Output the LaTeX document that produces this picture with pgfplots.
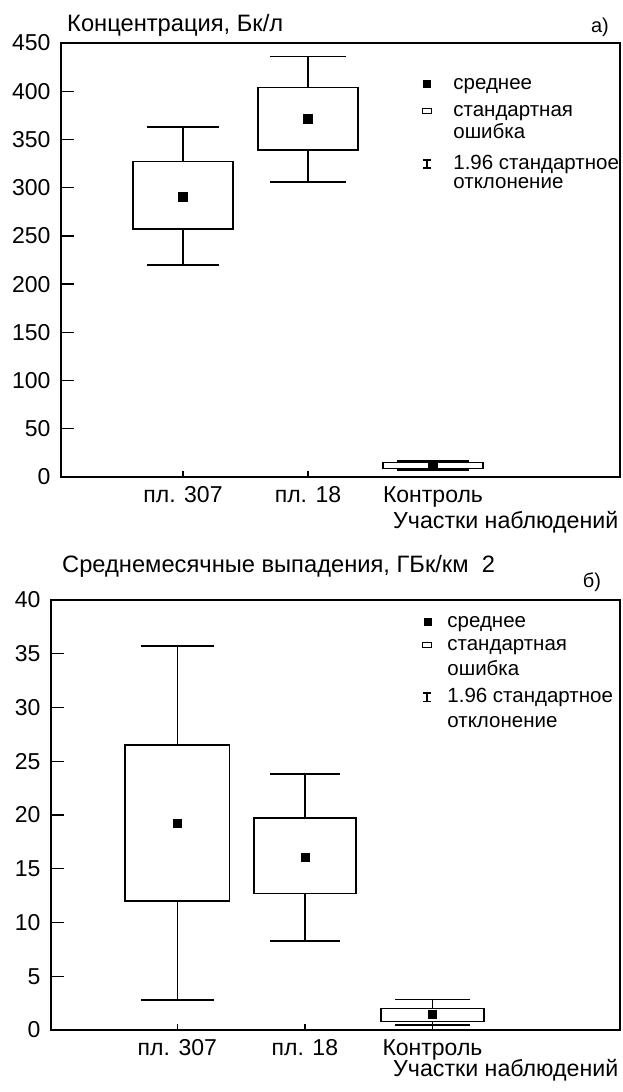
\documentclass[border=0pt]{standalone}
\usepackage{pgfplots}
\pgfplotsset{compat=1.18}
\usepackage{fontspec}
\setmainfont{Liberation Sans}

\newcommand{\st}[1]{\rule[-#1pt]{0pt}{\dimexpr 15pt+#1pt\relax}}

\pgfplotsset{
  myaxis/.style={
    scale only axis, anchor=south west,
    axis line style={line width=1.5pt},
    xtick={1,2,3}, xticklabels={пл. 307, пл. 18, Контроль},
    xtick pos=bottom, ytick pos=left, tick align=inside,
    major tick length=13pt,
    xtick style={draw=none},
    ytick style={line width=1.4pt, black},
    /pgf/number format/assume math mode=true,
    tick label style={font=\fontsize{23}{27}\selectfont},
    yticklabel style={xshift=-7pt},
    xticklabel style={yshift=-6pt},
    legend cell align=left,
    legend style={anchor=north west, draw=none, fill=none, inner sep=0pt, outer sep=0pt,
      font=\fontsize{20.5}{24}\selectfont,
      cells={anchor=base west},
      nodes={inner sep=0pt, text depth=, text height=}, row sep=0pt},
  },
  meanimg/.style={legend image code/.code={\path (0pt,0pt) (12pt,0pt); \fill[black] (2.5pt,1.7pt) rectangle (9.5pt,8.7pt);}},
  boximg/.style={legend image code/.code={\path (0pt,0pt) (12pt,0pt); \draw[black, line width=1.5pt] (1.5pt,2.7pt) rectangle (10.5pt,7.7pt);}},
  whiskimg/.style={legend image code/.code={\path (0pt,0pt) (12pt,0pt); \draw[black, line width=1.6pt] (2pt,1pt)--(10pt,1pt) (6pt,1pt)--(6pt,9.5pt) (2pt,9.5pt)--(10pt,9.5pt);}},
  emptyimg/.style={legend image code/.code={\path (0pt,0pt) (12pt,0pt);}},
  bx/.style={black, solid, line width=1.5pt, line join=miter, line cap=rect, forget plot, mark=none},
}

% box-and-whisker: #1 position, #2 box left, #3 box right, #4 cap left, #5 cap right,
% #6 lower whisker, #7 mean-SE, #8 mean+SE, #9 upper whisker
\newcommand{\bw}[9]{%
  \addplot[bx] coordinates {(#2,#7) (#3,#7) (#3,#8) (#2,#8) (#2,#7)};
  \addplot[bx] coordinates {(#1,#8) (#1,#9)};
  \addplot[bx] coordinates {(#4,#9) (#5,#9)};
  \addplot[bx] coordinates {(#1,#7) (#1,#6)};
  \addplot[bx] coordinates {(#4,#6) (#5,#6)};
}

\begin{document}
\begin{tikzpicture}
\path[use as bounding box] (0pt,0pt) rectangle (623pt,-1092pt);

% ---------- panel a ----------
\begin{axis}[myaxis,
  at={(61pt,-477pt)}, width=559pt, height=434pt,
  xmin=0.024, xmax=4.496, ymin=0, ymax=450,
  ytick={0,50,...,450},
  legend style={at={(axis description cs:0.6440,0.928)},
    /tikz/every odd column/.append style={column sep=20pt}},
]
\bw{1}{0.6}{1.4}{0.72}{1.28}{220}{257}{327}{363}
\bw{2}{1.6}{2.4}{1.7}{2.3}{306}{339}{404}{436}
\bw{3}{2.6}{3.4}{2.72}{3.28}{7.5}{9}{15}{16.5}
\addplot[forget plot, only marks, mark=square*, mark size=4.5pt, black]
  coordinates {(1,291) (2,371) (3,12)};
\addplot[forget plot, ycomb, black, line width=1.3pt, mark=none]
  coordinates {(1,6.2) (2,6.2)};
\addlegendimage{meanimg}\addlegendentry{\st{12}среднее}
\addlegendimage{boximg}\addlegendentry{\st{7}стандартная}
\addlegendimage{emptyimg}\addlegendentry{\st{16}ошибка}
\addlegendimage{whiskimg}\addlegendentry{\st{4}1.96 стандартное}
\addlegendimage{emptyimg}\addlegendentry{\st{5}отклонение}
\end{axis}

% ---------- panel b ----------
\begin{axis}[myaxis,
  at={(51pt,-1030pt)}, width=569pt, height=430pt,
  xmin=0.01, xmax=4.47, ymin=0, ymax=40,
  ytick={0,5,...,40},
  legend style={at={(axis description cs:0.6503,0.9714)},
    /tikz/every odd column/.append style={column sep=14pt}},
]
\bw{1}{0.59}{1.41}{0.72}{1.28}{2.8}{12.0}{26.5}{35.7}
\bw{2}{1.6}{2.4}{1.73}{2.27}{8.3}{12.7}{19.7}{23.8}
\bw{3}{2.595}{3.405}{2.71}{3.29}{0.45}{0.8}{2.0}{2.85}
\addplot[forget plot, only marks, mark=square*, mark size=4pt, black]
  coordinates {(1,19.2) (2,16.1) (3,1.5)};
\addplot[forget plot, ycomb, black, line width=1.3pt, mark=none]
  coordinates {(1,0.6) (2,0.6) (3,0.6)};
\addlegendimage{meanimg}\addlegendentry{\st{8}среднее}
\addlegendimage{boximg}\addlegendentry{\st{10}стандартная}
\addlegendimage{emptyimg}\addlegendentry{\st{12}ошибка}
\addlegendimage{whiskimg}\addlegendentry{\st{10}1.96 стандартное}
\addlegendimage{emptyimg}\addlegendentry{\st{5}отклонение}
\end{axis}

% titles and labels
\node[anchor=west, font=\fontsize{23.7}{27}\selectfont, inner sep=0pt] at (67pt,-25pt) {Концентрация, Бк/л};
\node[anchor=center, font=\fontsize{20}{24}\selectfont, inner sep=0pt] at (600pt,-27pt) {а)};
\node[anchor=west, font=\fontsize{23.7}{27}\selectfont, inner sep=0pt] at (62pt,-566pt) {Среднемесячные выпадения, ГБк/км~~2};
\node[anchor=center, font=\fontsize{20}{24}\selectfont, inner sep=0pt] at (592pt,-582pt) {б)};
\node[anchor=west, font=\fontsize{23.2}{27}\selectfont, inner sep=0pt] at (393pt,-522pt) {Участки наблюдений};
\node[anchor=west, font=\fontsize{23.2}{27}\selectfont, inner sep=0pt] at (393pt,-1070pt) {Участки наблюдений};
\end{tikzpicture}
\end{document}
